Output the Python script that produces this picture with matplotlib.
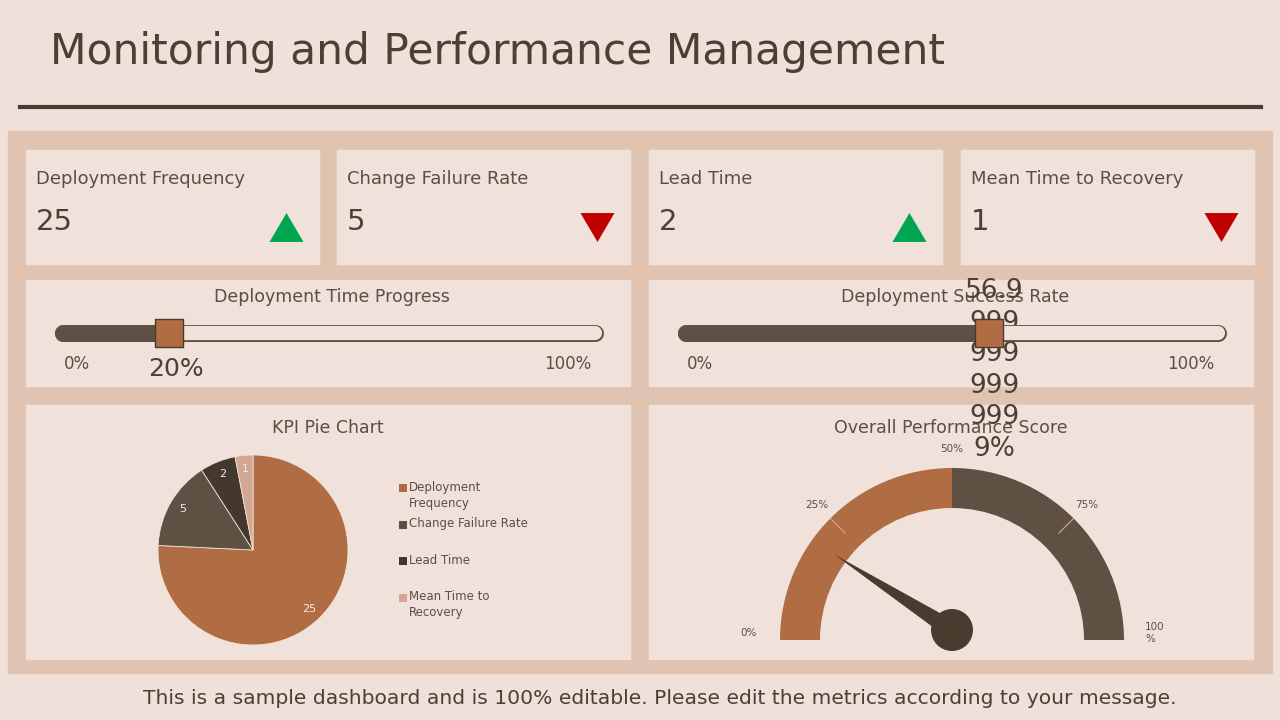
import matplotlib
matplotlib.use("Agg")
import matplotlib.pyplot as plt
import numpy as np
from matplotlib.patches import Rectangle, Wedge, Circle, Polygon
from matplotlib.transforms import blended_transform_factory

# ---- data ----
kpi_names = ["Deployment Frequency", "Change Failure Rate", "Lead Time", "Mean Time to Recovery"]
kpi_values = [25, 5, 2, 1]
kpi_trend = ["up", "down", "up", "down"]

time_progress = 20
success_rate = 56.99999999999999

pie_labels = ["Deployment\nFrequency", "Change Failure Rate", "Lead Time", "Mean Time to\nRecovery"]

gauge_ticks = [0, 25, 50, 75, 100]
gauge_tick_labels = ["0%", "25%", "50%", "75%", "100\n%"]
gauge_bands = [(0, 50), (50, 100)]
gauge_value = 20

# ---- style ----
BG = "#EFE1D9"
PANEL = "#E0C3B1"
CARD = "#F0E2DA"
TEXT = "#4E3F36"
LABEL = "#5C4E45"
BROWN = "#B06C43"
DARK = "#5E5042"
DARKER = "#44382E"
LIGHT = "#D3A892"
NEEDLE = "#4A3B2F"

plt.rcParams["font.family"] = ["DejaVu Sans"]

# flatter triangles than the built-in ^ / v markers
TRI_UP = [(-1, -0.85), (1, -0.85), (0, 0.85)]
TRI_DOWN = [(-1, 0.85), (1, 0.85), (0, -0.85)]

W, H = 1280, 720
fig = plt.figure(figsize=(12.8, 7.2), dpi=100)
fig.patch.set_facecolor(BG)
bg = fig.add_axes([0, 0, 1, 1])
bg.set_xlim(0, W)
bg.set_ylim(H, 0)
bg.axis("off")


def px_axes(x0, y0, x1, y1):
    ax = fig.add_axes([x0 / W, 1 - y1 / H, (x1 - x0) / W, (y1 - y0) / H])
    ax.axis("off")
    return ax


# title and rule
bg.text(50, 52, "Monitoring and Performance Management", fontsize=30.5, color=TEXT,
        va="center", ha="left")
bg.plot([20, 1261], [107, 107], color="#4A3B32", lw=3)

# background panel + cards
bg.add_patch(Rectangle((8, 131), 1264, 542, color=PANEL, zorder=0))
card_x = [26, 337, 649, 961]
for x0 in card_x:
    bg.add_patch(Rectangle((x0, 150), 293, 114, color=CARD, zorder=1))
for x0 in [26, 649]:
    bg.add_patch(Rectangle((x0, 280), 604, 106, color=CARD, zorder=1))
    bg.add_patch(Rectangle((x0, 405), 604, 254, color=CARD, zorder=1))

# KPI cards
for x0, name, val, trend in zip(card_x, kpi_names, kpi_values, kpi_trend):
    bg.text(x0 + 10, 179, name, fontsize=13, color=LABEL, va="center", ha="left", zorder=3)
    bg.text(x0 + 10, 222, str(val), fontsize=21, color=TEXT, va="center", ha="left", zorder=3)
    if trend == "up":
        bg.scatter([x0 + 260], [226.5], marker=TRI_UP, s=600, color="#00A550", lw=0, zorder=3)
    else:
        bg.scatter([x0 + 260], [226.5], marker=TRI_DOWN, s=600, color="#C00000", lw=0, zorder=3)


# progress bars
def progress(x0, x1, title, value):
    bg.text((x0 + x1) / 2 + 4, 297, title, fontsize=12.5, color=LABEL, ha="center", va="center", zorder=3)
    ax = px_axes(x0 + 28, 320, x1 - 27, 346)
    span = (x1 - 27) - (x0 + 28)
    scale = (span - 17) / 100.0
    pad = 8.5 / scale
    ax.set_xlim(-pad, 100 + pad)
    ax.set_ylim(-1, 1)
    lw = 17 * 0.72
    ax.plot([0, 100], [0, 0], color=DARK, lw=lw, solid_capstyle="round", clip_on=False)
    ax.plot([0, 100], [0, 0], color=CARD, lw=lw - 2.0, solid_capstyle="round", clip_on=False)
    ax.plot([0, value], [0, 0], color=DARK, lw=lw, solid_capstyle="round", clip_on=False)
    ax.scatter([value], [0], marker="s", s=380, color=BROWN, edgecolor=NEEDLE, lw=1, zorder=5, clip_on=False)
    tr = blended_transform_factory(ax.transData, bg.transData)
    bg.text(x0 + 51, 364, "0%", fontsize=12, color=LABEL, ha="center", va="center", zorder=3)
    bg.text(x1 - 62, 364, "100%", fontsize=12, color=LABEL, ha="center", va="center", zorder=3)
    return ax, tr


ax1, tr1 = progress(26, 630, "Deployment Time Progress", time_progress)
bg.text(time_progress + 1.3, 369, f"{time_progress}%", transform=tr1, fontsize=18, color=TEXT,
        ha="center", va="center", zorder=6)

ax2, tr2 = progress(649, 1253, "Deployment Success Rate", success_rate)
rate_label = f"{success_rate}%"
rate_lines = [rate_label[:4]] + [rate_label[i:i + 3] for i in range(4, len(rate_label), 3)]
bg.text(success_rate + 1, 370, "\n".join(rate_lines), transform=tr2, fontsize=19, color=TEXT,
        ha="center", va="center", linespacing=1.28, zorder=6)

# pie chart
bg.text(328, 428, "KPI Pie Chart", fontsize=12.5, color=LABEL, ha="center", va="center", zorder=3)
pax = px_axes(158, 455, 348, 645)
total = sum(kpi_values)
pie_colors = [BROWN, DARK, DARKER, LIGHT]
wedges, _, autotexts = pax.pie(
    kpi_values, colors=pie_colors, startangle=90, counterclock=False,
    autopct=lambda p: f"{round(p * total / 100)}", pctdistance=0.86,
    textprops={"color": "#F5ECE6", "fontsize": 8},
    wedgeprops={"edgecolor": CARD, "linewidth": 0.6},
)
pax.set_xlim(-1, 1)
pax.set_ylim(-1, 1)

# legend: evenly spaced entries, square aligned with first line
for i, (lab, col) in enumerate(zip(pie_labels, pie_colors)):
    y = 488 + 36.5 * i
    bg.scatter([403], [y], marker="s", s=26, color=col, lw=0, zorder=3)
    bg.text(409, y - 7, lab, fontsize=8.5, color=LABEL, ha="left", va="top",
            linespacing=1.25, zorder=3)

# gauge
bg.text(951, 428, "Overall Performance Score", fontsize=12.5, color=LABEL, ha="center", va="center", zorder=3)
R = 172.0
cx, cy = 952, 640
gax = px_axes(649, 405, 1253, 659)
gax.set_xlim((649 - cx) / R, (1253 - cx) / R)
gax.set_ylim((cy - 659) / R, (cy - 405) / R)
for (a, b), col in zip(gauge_bands, [BROWN, DARK]):
    gax.add_patch(Wedge((0, 0), 1.0, 180 - b * 1.8, 180 - a * 1.8, width=40 / R, color=col, lw=0))
for t in [25, 75]:
    ang = np.radians(180 - t * 1.8)
    gax.plot([0.88 * np.cos(ang), 1.0 * np.cos(ang)], [0.88 * np.sin(ang), 1.0 * np.sin(ang)],
             color="#D9A98A", lw=0.8)
for t, lab in zip(gauge_ticks, gauge_tick_labels):
    ang = np.radians(180 - t * 1.8)
    if 0 < t < 100:
        x, y = 1.11 * np.cos(ang), 1.11 * np.sin(ang)
    else:
        x, y = 1.18 * np.cos(ang), 0.04
    gax.text(x, y, lab, fontsize=7.5, color=LABEL, ha="center", va="center",
             multialignment="left", clip_on=False)

ang = np.radians(180 - gauge_value * 1.8)
hub = np.array([0, 10 / R])
tip = 0.845 * np.array([np.cos(ang), np.sin(ang)])
d = tip - hub
perp = np.array([-d[1], d[0]]) / np.hypot(*d) * (9 / R)
gax.add_patch(Polygon([hub + perp, tip, hub - perp], color=NEEDLE, lw=0))
gax.add_patch(Circle(hub, 21 / R, color=NEEDLE, lw=0))

# footer
bg.text(660, 698, "This is a sample dashboard and is 100% editable. Please edit the metrics according to your message.",
        fontsize=14.6, color=TEXT, ha="center", va="center", zorder=3)

fig.savefig("out.png", dpi=100, facecolor=BG)
